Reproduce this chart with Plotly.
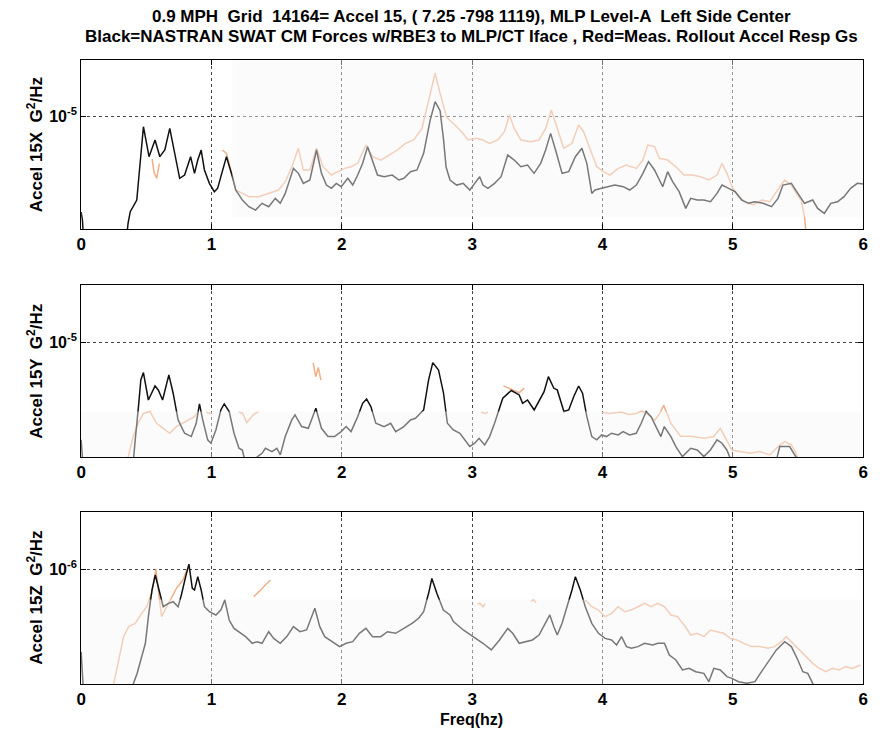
import plotly.graph_objects as go

# ---------------- data (frequency Hz, log10 PSD G^2/Hz) ----------------
X_BLACK = [(0.00,-5.85),(0.01,-5.92),(0.03,-6.3),(0.33,-6.3),(0.36,-5.95),(0.377,-5.846),(0.427,-5.743),(0.453,-5.388),
 (0.478,-5.092),(0.521,-5.358),(0.567,-5.210),(0.604,-5.358),(0.642,-5.299),(0.680,-5.107),(0.718,-5.329),(0.756,-5.550),
 (0.794,-5.521),(0.840,-5.358),(0.870,-5.506),(0.895,-5.388),(0.921,-5.299),(0.946,-5.476),(0.984,-5.595),(1.022,-5.669),
 (1.047,-5.639),(1.085,-5.476),(1.115,-5.358),(1.161,-5.536),(1.186,-5.654),(1.237,-5.743),(1.287,-5.802),(1.338,-5.832),
 (1.388,-5.772),(1.439,-5.802),(1.490,-5.728),(1.528,-5.772),(1.566,-5.684),(1.629,-5.462),(1.667,-5.506),(1.705,-5.595),
 (1.755,-5.565),(1.806,-5.299),(1.844,-5.506),(1.882,-5.610),(1.920,-5.639),(1.958,-5.595),(1.995,-5.624),(2.046,-5.550),
 (2.084,-5.610),(2.122,-5.521),(2.160,-5.417),(2.198,-5.269),(2.236,-5.388),(2.274,-5.521),(2.324,-5.536),(2.387,-5.521),
 (2.438,-5.565),(2.476,-5.550),(2.527,-5.491),(2.577,-5.476),(2.628,-5.329),(2.678,-5.033),(2.716,-4.870),(2.754,-4.95),
 (2.78,-5.2),(2.80,-5.45),(2.83,-5.565),(2.881,-5.610),(2.932,-5.595),(2.982,-5.654),(3.020,-5.595),(3.058,-5.536),
 (3.083,-5.610),(3.121,-5.639),(3.172,-5.595),(3.222,-5.536),(3.273,-5.343),(3.323,-5.388),(3.374,-5.447),(3.425,-5.432),
 (3.475,-5.506),(3.526,-5.417),(3.564,-5.299),(3.602,-5.151),(3.640,-5.299),(3.690,-5.506),(3.741,-5.491),(3.792,-5.358),
 (3.842,-5.284),(3.880,-5.417),(3.918,-5.684),(3.943,-5.654),(3.994,-5.639),(4.045,-5.624),(4.095,-5.610),(4.159,-5.624),
 (4.209,-5.654),(4.260,-5.610),(4.310,-5.506),(4.353,-5.402),(4.399,-5.476),(4.437,-5.565),(4.462,-5.624),(4.500,-5.491),
 (4.538,-5.580),(4.588,-5.669),(4.639,-5.817),(4.677,-5.728),(4.727,-5.743),(4.778,-5.743),(4.829,-5.758),(4.879,-5.684),
 (4.917,-5.610),(4.968,-5.639),(5.018,-5.669),(5.069,-5.743),(5.120,-5.772),(5.170,-5.758),(5.233,-5.772),(5.297,-5.802),
 (5.347,-5.728),(5.385,-5.610),(5.449,-5.595),(5.499,-5.684),(5.550,-5.772),(5.613,-5.743),(5.651,-5.817),(5.702,-5.861),
 (5.752,-5.772),(5.803,-5.758),(5.853,-5.713),(5.904,-5.639),(5.955,-5.595),(6.005,-5.601)]

X_RED = [(0.545,-5.38),(0.56,-5.50),(0.58,-5.55),(0.60,-5.42),(None,None),
 (1.085,-5.299),(1.115,-5.329),(1.148,-5.476),(1.186,-5.654),(1.237,-5.684),(1.287,-5.713),(1.363,-5.713),(1.439,-5.684),
 (1.515,-5.654),(1.566,-5.580),(1.617,-5.447),(1.667,-5.284),(1.705,-5.476),(1.755,-5.476),(1.806,-5.284),(1.856,-5.447),
 (1.920,-5.521),(1.970,-5.491),(2.021,-5.462),(2.071,-5.447),(2.122,-5.417),(2.185,-5.255),(2.236,-5.358),(2.299,-5.388),
 (2.362,-5.343),(2.425,-5.299),(2.489,-5.240),(2.552,-5.210),(2.615,-5.107),(2.666,-4.855),(2.716,-4.618),(2.754,-4.796),
 (2.805,-5.010),(2.868,-5.077),(2.919,-5.136),(2.970,-5.210),(3.033,-5.195),(3.083,-5.210),(3.134,-5.240),(3.197,-5.210),
 (3.248,-5.136),(3.286,-4.988),(3.323,-5.107),(3.374,-5.210),(3.450,-5.225),(3.513,-5.210),(3.564,-5.107),(3.607,-4.944),
 (3.652,-5.107),(3.703,-5.284),(3.766,-5.240),(3.817,-5.077),(3.855,-5.136),(3.905,-5.299),(3.956,-5.447),(4.007,-5.491),
 (4.057,-5.521),(4.121,-5.462),(4.184,-5.432),(4.260,-5.462),(4.310,-5.388),(4.348,-5.255),(4.399,-5.269),(4.437,-5.373),
 (4.500,-5.388),(4.563,-5.447),(4.626,-5.521),(4.690,-5.521),(4.753,-5.536),(4.816,-5.565),(4.879,-5.521),(4.917,-5.417),
 (4.955,-5.506),(4.993,-5.624),(5.044,-5.713),(5.094,-5.758),(5.158,-5.787),(5.221,-5.743),(5.284,-5.758),(5.335,-5.669),
 (5.398,-5.565),(5.449,-5.610),(5.487,-5.684),(5.525,-5.743),(5.550,-5.891),(5.562,-6.04)]

Y_BLACK = [(0.00,-5.85),(0.01,-6.0),(0.03,-6.3),(0.38,-6.3),(0.40,-6.0),(0.415,-5.851),(0.440,-5.561),(0.458,-5.328),
 (0.478,-5.264),(0.516,-5.503),(0.567,-5.380),(0.592,-5.415),(0.625,-5.503),(0.673,-5.284),(0.706,-5.444),(0.744,-5.677),
 (0.794,-5.793),(0.845,-5.822),(0.883,-5.706),(0.908,-5.537),(0.933,-5.677),(0.971,-5.851),(0.996,-5.880),(1.034,-5.764),
 (1.072,-5.590),(1.098,-5.537),(1.136,-5.604),(1.173,-5.793),(1.211,-5.924),(1.237,-5.939),(1.26,-6.05),(1.30,-6.2),
 (1.35,-6.0),(1.388,-5.968),(1.414,-5.924),(1.464,-5.953),(1.502,-5.924),(1.528,-5.982),(1.566,-5.822),(1.616,-5.677),
 (1.641,-5.633),(1.692,-5.735),(1.743,-5.750),(1.801,-5.575),(1.844,-5.750),(1.894,-5.822),(1.945,-5.822),(1.995,-5.779),
 (2.033,-5.735),(2.071,-5.779),(2.122,-5.648),(2.160,-5.532),(2.190,-5.494),(2.223,-5.561),(2.261,-5.706),(2.324,-5.735),
 (2.375,-5.706),(2.413,-5.779),(2.476,-5.735),(2.527,-5.677),(2.565,-5.662),(2.628,-5.590),(2.666,-5.328),(2.698,-5.177),
 (2.742,-5.241),(2.78,-5.44),(2.81,-5.706),(2.856,-5.764),(2.906,-5.793),(2.944,-5.851),(2.982,-5.909),(3.020,-5.880),
 (3.053,-5.837),(3.096,-5.895),(3.134,-5.822),(3.172,-5.706),(3.209,-5.575),(3.235,-5.488),(3.30,-5.42),(3.361,-5.459),
 (3.387,-5.532),(3.425,-5.503),(3.476,-5.590),(3.514,-5.503),(3.552,-5.430),(3.585,-5.299),(3.627,-5.401),(3.653,-5.415),
 (3.704,-5.604),(3.741,-5.590),(3.779,-5.474),(3.817,-5.381),(3.847,-5.444),(3.880,-5.648),(3.918,-5.822),(3.956,-5.851),
 (3.994,-5.808),(4.031,-5.822),(4.069,-5.793),(4.120,-5.808),(4.158,-5.779),(4.208,-5.808),(4.259,-5.793),(4.297,-5.706),
 (4.335,-5.604),(4.373,-5.648),(4.411,-5.735),(4.448,-5.822),(4.474,-5.735),(4.499,-5.779),(4.525,-5.822),(4.563,-5.909),
 (4.613,-5.997),(4.677,-5.924),(4.727,-5.939),(4.778,-5.997),(4.828,-5.939),(4.879,-5.851),(4.917,-5.880),(4.954,-5.939),
 (4.980,-6.01),(5.05,-6.3),(5.30,-6.3),(5.334,-6.03),(5.360,-5.909),(5.436,-5.909),(5.474,-5.982),(5.500,-6.03),(5.55,-6.3)]

Y_RED = [(0.35,-6.05),(0.40,-5.82),(0.44,-5.70),(0.478,-5.62),(0.529,-5.604),(0.579,-5.706),(0.63,-5.75),(0.68,-5.793),
 (0.731,-5.735),(0.781,-5.706),(0.832,-5.677),(0.87,-5.648),(0.89,-5.61),(None,None),
 (0.96,-5.61),(0.984,-5.62),(1.0,-5.615),(None,None),
 (1.21,-5.61),(1.24,-5.62),(1.27,-5.70),(1.30,-5.66),(1.33,-5.62),(1.36,-5.61),(None,None),
 (1.78,-5.18),(1.80,-5.30),(1.82,-5.22),(1.84,-5.33),(None,None),
 (3.07,-5.61),(3.10,-5.62),(3.12,-5.61),(None,None),
 (3.24,-5.38),(3.28,-5.40),(3.32,-5.42),(3.36,-5.44),(3.40,-5.40),(None,None),
 (4.0,-5.61),(4.05,-5.62),(4.10,-5.615),(4.15,-5.61),(4.2,-5.63),(4.26,-5.62),(4.30,-5.60),(4.35,-5.63),(4.40,-5.68),
 (4.44,-5.62),(4.47,-5.55),(4.525,-5.706),(4.60,-5.82),(4.677,-5.82),(4.778,-5.837),(4.853,-5.822),(4.904,-5.75),
 (4.954,-5.851),(4.993,-5.939),(5.056,-5.953),(5.132,-5.968),(5.208,-5.953),(5.284,-5.982),(5.347,-5.909),(5.398,-5.866),
 (5.449,-5.895),(5.487,-5.968),(5.51,-6.05)]

Z_BLACK = [(0.00,-6.72),(0.01,-6.95),(0.03,-7.3),(0.38,-7.3),(0.40,-7.0),(0.43,-6.907),(0.468,-6.762),(0.493,-6.645),
 (0.519,-6.384),(0.544,-6.180),(0.569,-6.049),(0.607,-6.209),(0.630,-6.326),(0.67,-6.297),(0.706,-6.282),(0.744,-6.326),
 (0.769,-6.224),(0.802,-6.064),(0.827,-5.954),(0.853,-6.166),(0.870,-6.180),(0.895,-6.064),(0.921,-6.180),(0.946,-6.326),
 (0.984,-6.369),(1.034,-6.398),(1.072,-6.355),(1.102,-6.267),(1.136,-6.442),(1.173,-6.515),(1.211,-6.544),(1.262,-6.587),
 (1.313,-6.645),(1.350,-6.631),(1.388,-6.645),(1.439,-6.544),(1.477,-6.602),(1.528,-6.645),(1.578,-6.587),(1.629,-6.500),
 (1.679,-6.544),(1.730,-6.529),(1.793,-6.340),(1.831,-6.500),(1.869,-6.587),(1.932,-6.631),(1.983,-6.674),(2.033,-6.645),
 (2.084,-6.631),(2.135,-6.558),(2.185,-6.515),(2.236,-6.587),(2.299,-6.587),(2.350,-6.544),(2.413,-6.558),(2.476,-6.515),
 (2.539,-6.471),(2.590,-6.427),(2.628,-6.369),(2.666,-6.209),(2.691,-6.079),(2.729,-6.209),(2.779,-6.355),(2.83,-6.398),
 (2.856,-6.456),(2.932,-6.529),(3.008,-6.587),(3.083,-6.645),(3.147,-6.703),(3.210,-6.616),(3.273,-6.515),(3.311,-6.558),
 (3.361,-6.645),(3.412,-6.631),(3.463,-6.616),(3.513,-6.573),(3.564,-6.471),(3.596,-6.398),(3.627,-6.500),(3.653,-6.573),
 (3.690,-6.471),(3.729,-6.326),(3.766,-6.180),(3.792,-6.064),(3.830,-6.180),(3.868,-6.326),(3.918,-6.471),(3.969,-6.558),
 (4.020,-6.602),(4.070,-6.616),(4.108,-6.660),(4.146,-6.587),(4.184,-6.674),(4.222,-6.689),(4.272,-6.674),(4.323,-6.645),
 (4.386,-6.660),(4.424,-6.645),(4.475,-6.645),(4.513,-6.747),(4.563,-6.791),(4.614,-6.878),(4.664,-6.864),(4.715,-6.893),
 (4.778,-6.907),(4.816,-6.980),(4.854,-6.864),(4.904,-6.878),(4.955,-6.936),(4.993,-6.951),(5.044,-6.980),(5.107,-6.994),
 (5.170,-6.980),(5.220,-6.893),(5.284,-6.791),(5.334,-6.703),(5.398,-6.631),(5.449,-6.674),(5.499,-6.791),(5.537,-6.893),
 (5.575,-6.907),(5.613,-6.994),(5.64,-7.3)]

Z_RED = [(0.25,-7.0),(0.288,-6.79),(0.326,-6.587),(0.364,-6.50),(0.415,-6.471),(0.465,-6.384),(0.503,-6.326),(0.541,-6.209),
 (0.574,-6.0),(0.617,-6.413),(0.655,-6.326),(0.693,-6.253),(0.731,-6.166),(0.781,-6.093),(0.813,-6.0),(None,None),
 (1.325,-6.238),(1.376,-6.18),(1.414,-6.137),(1.452,-6.093),(None,None),
 (3.04,-6.30),(3.06,-6.297),(3.083,-6.326),(3.10,-6.30),(None,None),
 (3.45,-6.28),(3.47,-6.267),(3.49,-6.29),(None,None),
 (3.868,-6.267),(3.918,-6.326),(3.969,-6.355),(4.020,-6.413),(4.07,-6.384),(4.12,-6.326),(4.17,-6.369),(4.22,-6.355),
 (4.272,-6.326),(4.323,-6.297),(4.373,-6.326),(4.424,-6.297),(4.475,-6.326),(4.525,-6.398),(4.576,-6.413),(4.627,-6.486),
 (4.677,-6.573),(4.727,-6.558),(4.778,-6.587),(4.829,-6.529),(4.879,-6.544),(4.930,-6.558),(4.980,-6.602),(5.031,-6.616),
 (5.082,-6.645),(5.145,-6.674),(5.208,-6.674),(5.271,-6.689),(5.322,-6.674),(5.372,-6.631),(5.41,-6.587),(5.461,-6.645),
 (5.512,-6.703),(5.562,-6.762),(5.613,-6.820),(5.664,-6.864),(5.714,-6.893),(5.765,-6.864),(5.815,-6.878),(5.866,-6.849),
 (5.917,-6.864),(5.980,-6.835)]

Y_LABELS = ["Accel 15X  G<sup>2</sup>/Hz", "Accel 15Y  G<sup>2</sup>/Hz", "Accel 15Z  G<sup>2</sup>/Hz"]
Y_TICKS = [1e-5, 1e-5, 1e-6]
Y_TICKTEXT = ["10<sup>-5</sup>", "10<sup>-5</sup>", "10<sup>-6</sup>"]
Y_RANGES = [(-6, -4.5), (-6, -4.5), (-7, -5.5)]
X_TICKS = [0, 1, 2, 3, 4, 5, 6]
TITLE_1 = "0.9 MPH  Grid  14164= Accel 15, ( 7.25 -798 1119), MLP Level-A  Left Side Center"
TITLE_2 = "Black=NASTRAN SWAT CM Forces w/RBE3 to MLP/CT Iface , Red=Meas. Rollout Accel Resp Gs"
X_LABEL = "Freq(hz)"


def split(pairs):
    f = [p[0] for p in pairs]
    v = [None if p[1] is None else 10 ** p[1] for p in pairs]
    return f, v

FONT = "Liberation Sans, Arial, sans-serif"
BLACK = "#111111"
RED = "rgb(240,175,135)"

fig = go.Figure()
series = [(X_BLACK, X_RED), (Y_BLACK, Y_RED), (Z_BLACK, Z_RED)]
domains = [(0.6897, 0.9187), (0.3808, 0.6138), (0.0732, 0.3062)]

for i, (blk, red) in enumerate(series):
    xa = "x" if i == 0 else f"x{i+1}"
    ya = "y" if i == 0 else f"y{i+1}"
    fr, vr = split(red)
    fb, vb = split(blk)
    fig.add_trace(go.Scatter(x=fr, y=vr, mode="lines", line=dict(color=RED, width=1.5),
                             xaxis=xa, yaxis=ya, showlegend=False, connectgaps=False))
    fig.add_trace(go.Scatter(x=fb, y=vb, mode="lines", line=dict(color=BLACK, width=1.5),
                             xaxis=xa, yaxis=ya, showlegend=False))

axis_common = dict(showline=True, linecolor="black", linewidth=1, mirror="ticks", ticks="inside",
                   ticklen=5, tickcolor="black", showgrid=True, gridcolor="#444", griddash="dot",
                   gridwidth=1, zeroline=False,
                   tickfont=dict(family=FONT, size=17, color="black", weight="bold"))

layout = dict(width=883, height=738, margin=dict(l=0, r=0, t=0, b=0),
              paper_bgcolor="white", plot_bgcolor="white", showlegend=False)
for i in range(3):
    xk = "xaxis" if i == 0 else f"xaxis{i+1}"
    yk = "yaxis" if i == 0 else f"yaxis{i+1}"
    ya = "y" if i == 0 else f"y{i+1}"
    xa = "x" if i == 0 else f"x{i+1}"
    layout[xk] = dict(axis_common, domain=[0.0872, 0.983], range=[0, 6], tickvals=X_TICKS,
                      ticktext=[str(t) for t in X_TICKS], anchor=ya)
    layout[yk] = dict(axis_common, domain=list(domains[i]), type="log", range=list(Y_RANGES[i]),
                      tickvals=[Y_TICKS[i]], ticktext=[Y_TICKTEXT[i]], anchor=xa,
                      tickfont=dict(family=FONT, size=16, color="black", weight="bold"))
fig.update_layout(**layout)

annotations = []
for i in range(3):
    ya = "y" if i == 0 else f"y{i+1}"
    annotations.append(dict(text=Y_LABELS[i], textangle=-90, xref="paper", x=30/883, xanchor="center",
                            yref=f"{ya} domain", y=0.5, yanchor="middle", showarrow=False,
                            font=dict(family=FONT, size=17, color="black", weight="bold")))
annotations.append(dict(text=TITLE_1, xref="paper", x=472/883, y=1-17/738, yref="paper", xanchor="center",
                        yanchor="middle", showarrow=False, font=dict(family=FONT, size=17, color="black", weight="bold")))
annotations.append(dict(text=TITLE_2, xref="paper", x=472/883, y=1-36/738, yref="paper", xanchor="center",
                        yanchor="middle", showarrow=False, font=dict(family=FONT, size=17, color="black", weight="bold")))
annotations.append(dict(text=X_LABEL, xref="paper", x=472/883, y=1-719/738, yref="paper", xanchor="center",
                        yanchor="middle", showarrow=False, font=dict(family=FONT, size=16, color="black", weight="bold")))
fig.update_layout(annotations=annotations)

# scan-like pale overlay bands
OVER = "rgba(246,246,246,0.45)"
fig.add_shape(type="rect", xref="x", yref="y domain", x0=1.16, x1=6, y0=0.073, y1=1,
              fillcolor=OVER, line=dict(width=0), layer="above")
fig.add_shape(type="rect", xref="x2", yref="y2 domain", x0=0, x1=6, y0=0, y1=0.264,
              fillcolor=OVER, line=dict(width=0), layer="above")
fig.add_shape(type="rect", xref="x3", yref="y3 domain", x0=0, x1=6, y0=0, y1=0.492,
              fillcolor=OVER, line=dict(width=0), layer="above")

fig.write_html("out.html")
